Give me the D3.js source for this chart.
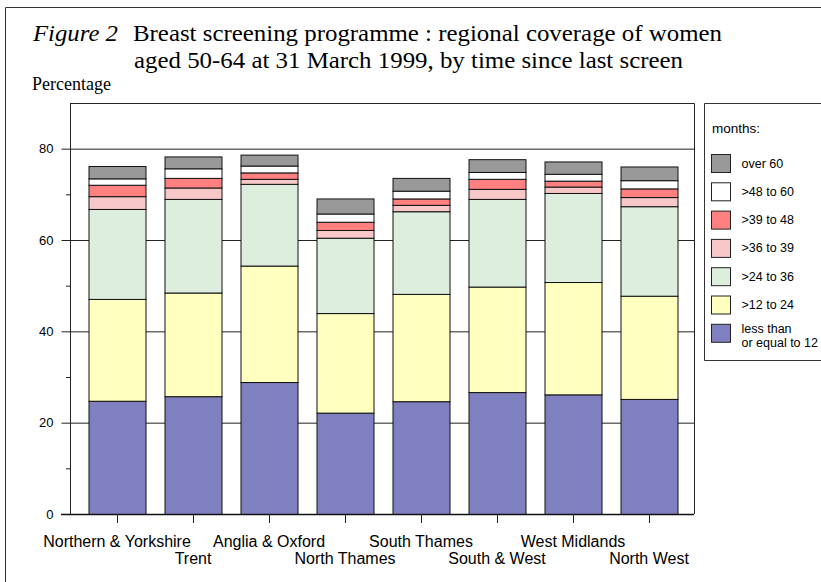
<!DOCTYPE html>
<html>
<head>
<meta charset="utf-8">
<script src="https://cdn.jsdelivr.net/npm/d3@7"></script>
<style>
  body { margin: 0; background: #fff; }
  svg { font-family: "Liberation Sans", Arial, sans-serif; }
  svg text.serif { font-family: "Liberation Serif", "Times New Roman", serif; }
</style>
</head>
<body>
<div id="chart"></div>
<script>
// regional coverage, stacked by months since last screen
const regions = ["Northern & Yorkshire", "Trent", "Anglia & Oxford", "North Thames",
                 "South Thames", "South & West", "West Midlands", "North West"];
const bands = ["le12", "m12_24", "m24_36", "m36_39", "m39_48", "m48_60", "over60"];
const bandLabels = ["less than|or equal to 12", ">12 to 24", ">24 to 36", ">36 to 39", ">39 to 48", ">48 to 60", "over 60"];
const bandColors = ["#8080c0", "#ffffc0", "#ddeedf", "#f8c8c8", "#ff8080", "#ffffff", "#999999"];

const le12   = [24.8, 25.8, 28.9, 22.2, 24.7, 26.7, 26.2, 25.2];
const m12_24 = [22.3, 22.7, 25.5, 21.8, 23.5, 23.1, 24.6, 22.6];
const m24_36 = [19.7, 20.5, 17.9, 16.5, 18.1, 19.2, 19.5, 19.6];
const m36_39 = [2.8, 2.5, 1.1, 1.7, 1.4, 2.2, 1.4, 2.0];
const m39_48 = [2.5, 2.1, 1.4, 1.8, 1.4, 2.2, 1.3, 1.9];
const m48_60 = [1.4, 2.1, 1.5, 1.8, 1.7, 1.5, 1.5, 1.8];
const over60 = [2.7, 2.6, 2.4, 3.3, 2.8, 2.8, 2.7, 3.0];

const yTicks = [0, 20, 40, 60, 80];
const yMinor = [10, 30, 50, 70];

(function() {
  const width = 821, height = 582;
  const svg = d3.select("#chart").append("svg").attr("width", width).attr("height", height);

  // outer frame (runs off right and bottom)
  svg.append("path").attr("d", "M5.5,590V7.5H830").attr("fill", "none").attr("stroke", "#333").attr("stroke-width", 1);

  // title (widths stretched to match the original typesetting)
  svg.append("text").attr("class", "serif").attr("x", 33).attr("y", 41).attr("font-size", 24)
    .attr("font-style", "italic").attr("textLength", 85).attr("lengthAdjust", "spacingAndGlyphs").text("Figure 2");
  svg.append("text").attr("class", "serif").attr("x", 133).attr("y", 41).attr("font-size", 24)
    .attr("textLength", 589).attr("lengthAdjust", "spacingAndGlyphs")
    .text("Breast screening programme : regional coverage of women");
  svg.append("text").attr("class", "serif").attr("x", 134).attr("y", 68).attr("font-size", 24)
    .attr("textLength", 549).attr("lengthAdjust", "spacingAndGlyphs")
    .text("aged 50-64 at 31 March 1999, by time since last screen");
  svg.append("text").attr("class", "serif").attr("x", 32).attr("y", 90).attr("font-size", 18)
    .text("Percentage");

  const plot = { left: 70, right: 694, top: 103, bottom: 514 };
  const x = d3.scaleBand().domain(regions).range([79, 687]).paddingInner(0.25).paddingOuter(0.125);
  const y = d3.scaleLinear().domain([0, 90]).range([plot.bottom, plot.top]);

  const g = svg.append("g");

  // gridlines + plot frame
  g.selectAll("line.grid").data(yTicks.slice(1)).join("line").attr("class", "grid")
    .attr("x1", plot.left).attr("x2", plot.right).attr("y1", d => y(d) + 0.5).attr("y2", d => y(d) + 0.5)
    .attr("stroke", "#222").attr("stroke-width", 1);
  g.append("path").attr("d", `M${plot.left},${plot.top + 0.5}H${plot.right + 0.5}V${plot.bottom}`)
    .attr("fill", "none").attr("stroke", "#222");

  // stacks
  const rows = regions.map((r, i) => {
    const o = { region: r };
    o.le12 = le12[i]; o.m12_24 = m12_24[i]; o.m24_36 = m24_36[i]; o.m36_39 = m36_39[i];
    o.m39_48 = m39_48[i]; o.m48_60 = m48_60[i]; o.over60 = over60[i];
    return o;
  });
  const series = d3.stack().keys(bands)(rows);
  g.selectAll("g.series").data(series).join("g").attr("class", "series")
    .attr("fill", (d, i) => bandColors[i])
    .selectAll("rect").data(d => d).join("rect")
    .attr("x", d => x(d.data.region) + 0.5).attr("width", x.bandwidth())
    .attr("y", d => y(d[1]) + 0.5).attr("height", d => y(d[0]) - y(d[1]))
    .attr("stroke", "#111").attr("stroke-width", 1);

  // y axis
  const yAxis = d3.axisLeft(y).tickValues(yTicks).tickSize(9).tickPadding(8).tickFormat(d3.format("d"));
  const ya = g.append("g").attr("transform", `translate(${plot.left + 0.5},0)`).call(yAxis);
  ya.select(".domain").attr("d", `M0,${plot.top}V${plot.bottom}`).attr("stroke", "#222");
  ya.selectAll(".tick line").attr("stroke", "#222");
  ya.selectAll(".tick text").attr("font-size", 13).attr("font-family", null).attr("fill", "#000");
  g.selectAll("line.minor").data(yMinor).join("line").attr("class", "minor")
    .attr("x1", plot.left - 4).attr("x2", plot.left).attr("y1", d => y(d) + 0.5).attr("y2", d => y(d) + 0.5)
    .attr("stroke", "#222");

  // baseline
  g.append("line").attr("x1", plot.left - 9).attr("x2", plot.right).attr("y1", plot.bottom + 0.5).attr("y2", plot.bottom + 0.5)
    .attr("stroke", "#111").attr("stroke-width", 1.5);

  // x ticks + staggered labels
  g.selectAll("line.xt").data(regions).join("line").attr("class", "xt")
    .attr("x1", d => Math.round(x(d) + x.bandwidth() / 2) + 0.5).attr("x2", d => Math.round(x(d) + x.bandwidth() / 2) + 0.5)
    .attr("y1", plot.bottom).attr("y2", plot.bottom + 9).attr("stroke", "#222");
  g.selectAll("text.xl").data(regions).join("text").attr("class", "xl")
    .attr("x", d => x(d) + x.bandwidth() / 2).attr("y", (d, i) => i % 2 === 0 ? 547 : 564)
    .attr("text-anchor", "middle").attr("font-size", 16).text(d => d);

  // legend
  const lg = svg.append("g");
  lg.append("path").attr("d", "M830,103.5H704.5V360.5H830").attr("fill", "none").attr("stroke", "#333");
  lg.append("text").attr("x", 712).attr("y", 133).attr("font-size", 13.5).text("months:");
  const order = bands.map((b, i) => i).reverse();
  const item = lg.selectAll("g.item").data(order).join("g").attr("class", "item")
    .attr("transform", (d, k) => `translate(711.5,${154.5 + k * 28.3})`);
  item.append("rect").attr("width", 19).attr("height", 18).attr("fill", d => bandColors[d]).attr("stroke", "#222");
  item.each(function(d) {
    const parts = bandLabels[d].split("|");
    const t = d3.select(this).append("text").attr("x", 30).attr("y", parts.length > 1 ? 9 : 13).attr("font-size", 12.5);
    parts.forEach((p, j) => t.append("tspan").attr("x", 30).attr("dy", j ? 14 : 0).text(p));
  });
})();
</script>
</body>
</html>
